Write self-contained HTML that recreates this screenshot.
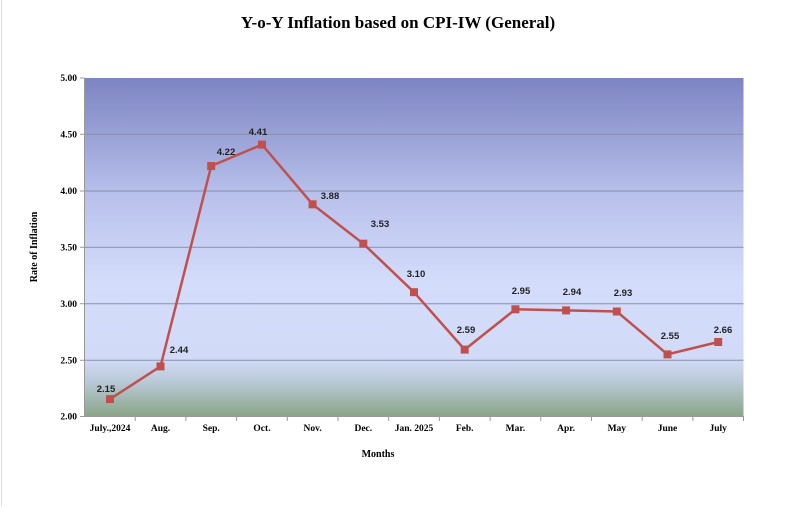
<!DOCTYPE html>
<html><head><style>
body{margin:0;background:#fff;}
</style></head><body>
<svg width="796" height="506" xmlns="http://www.w3.org/2000/svg" font-family="Liberation Serif, serif">
<defs>
<linearGradient id="g" x1="0" y1="78" x2="0" y2="416" gradientUnits="userSpaceOnUse">
<stop offset="0" stop-color="#7d84c2"/>
<stop offset="0.35" stop-color="#b9c1ec"/>
<stop offset="0.6" stop-color="#d3dcfa"/>
<stop offset="0.83" stop-color="#d1dbf8"/>
<stop offset="0.9" stop-color="#b9c9d6"/>
<stop offset="1" stop-color="#8aa588"/>
</linearGradient>
</defs>
<line x1="1.5" y1="0" x2="1.5" y2="506" stroke="#ddd"/>
<text x="398" y="28" text-anchor="middle" font-size="17" font-weight="bold">Y-o-Y Inflation based on CPI-IW (General)</text>
<rect x="84.5" y="78" width="659" height="338" fill="url(#g)"/>
<g stroke="#8a8fa8" stroke-width="1">
<line x1="84.5" y1="134.3" x2="743.5" y2="134.3"/>
<line x1="84.5" y1="191" x2="743.5" y2="191"/>
<line x1="84.5" y1="247.3" x2="743.5" y2="247.3"/>
<line x1="84.5" y1="303.7" x2="743.5" y2="303.7"/>
<line x1="84.5" y1="360.3" x2="743.5" y2="360.3"/>
</g>
<g stroke="#999" stroke-width="1">
<line x1="84.5" y1="78" x2="84.5" y2="416"/>
<line x1="80" y1="416.5" x2="743.5" y2="416.5"/>
<line x1="80" y1="78" x2="84.5" y2="78"/><line x1="80" y1="134.3" x2="84.5" y2="134.3"/><line x1="80" y1="191" x2="84.5" y2="191"/><line x1="80" y1="247.3" x2="84.5" y2="247.3"/><line x1="80" y1="303.7" x2="84.5" y2="303.7"/><line x1="80" y1="360.3" x2="84.5" y2="360.3"/>
<line x1="135.2" y1="416" x2="135.2" y2="421"/><line x1="185.9" y1="416" x2="185.9" y2="421"/><line x1="236.6" y1="416" x2="236.6" y2="421"/><line x1="287.3" y1="416" x2="287.3" y2="421"/><line x1="338" y1="416" x2="338" y2="421"/><line x1="388.7" y1="416" x2="388.7" y2="421"/><line x1="439.4" y1="416" x2="439.4" y2="421"/><line x1="490.1" y1="416" x2="490.1" y2="421"/><line x1="540.8" y1="416" x2="540.8" y2="421"/><line x1="591.5" y1="416" x2="591.5" y2="421"/><line x1="642.2" y1="416" x2="642.2" y2="421"/><line x1="692.9" y1="416" x2="692.9" y2="421"/><line x1="743.5" y1="416" x2="743.5" y2="421"/>
</g>
<g font-size="9.5" font-weight="bold" text-anchor="end">
<text x="77" y="81">5.00</text><text x="77" y="137.5">4.50</text><text x="77" y="194">4.00</text><text x="77" y="250.5">3.50</text><text x="77" y="307">3.00</text><text x="77" y="363.5">2.50</text><text x="77" y="419.5">2.00</text>
</g>
<text transform="translate(37,247) rotate(-90)" text-anchor="middle" font-size="10" font-weight="bold">Rate of Inflation</text>
<g font-size="9.5" font-weight="bold" text-anchor="middle">
<text x="110" y="431">July.,2024</text><text x="160.5" y="431">Aug.</text><text x="211.2" y="431">Sep.</text><text x="262" y="431">Oct.</text><text x="312.6" y="431">Nov.</text><text x="363.3" y="431">Dec.</text><text x="414" y="431">Jan. 2025</text><text x="464.7" y="431">Feb.</text><text x="515.4" y="431">Mar.</text><text x="566.1" y="431">Apr.</text><text x="616.8" y="431">May</text><text x="667.5" y="431">June</text><text x="718.2" y="431">July</text>
</g>
<text x="378" y="457" text-anchor="middle" font-size="10" font-weight="bold">Months</text>
<polyline fill="none" stroke="#c0504d" stroke-width="2.5" points="110,399.1 160.5,366.4 211.2,166 262,144.6 312.6,204.3 363.3,243.7 414,292.2 464.7,349.6 515.4,309.3 566.1,310.4 616.8,311.5 667.5,354.4 718.2,342"/>
<g fill="#c0504d">
<rect x="106" y="395.1" width="8" height="8"/><rect x="156.5" y="362.4" width="8" height="8"/><rect x="207.2" y="162" width="8" height="8"/><rect x="258" y="140.6" width="8" height="8"/><rect x="308.6" y="200.3" width="8" height="8"/><rect x="359.3" y="239.7" width="8" height="8"/><rect x="410" y="288.2" width="8" height="8"/><rect x="460.7" y="345.6" width="8" height="8"/><rect x="511.4" y="305.3" width="8" height="8"/><rect x="562.1" y="306.4" width="8" height="8"/><rect x="612.8" y="307.5" width="8" height="8"/><rect x="663.5" y="350.4" width="8" height="8"/><rect x="714.2" y="338" width="8" height="8"/>
</g>
<g font-family="Liberation Sans, sans-serif" font-size="9.5" font-weight="bold" fill="#222" text-anchor="middle">
<text x="106" y="392">2.15</text><text x="179" y="353">2.44</text><text x="226" y="155">4.22</text><text x="258" y="135">4.41</text><text x="330" y="199">3.88</text><text x="380" y="227">3.53</text><text x="416" y="277">3.10</text><text x="466" y="333">2.59</text><text x="521" y="294">2.95</text><text x="572" y="295">2.94</text><text x="623" y="296">2.93</text><text x="670" y="339">2.55</text><text x="723" y="333">2.66</text>
</g>
</svg>
</body></html>
